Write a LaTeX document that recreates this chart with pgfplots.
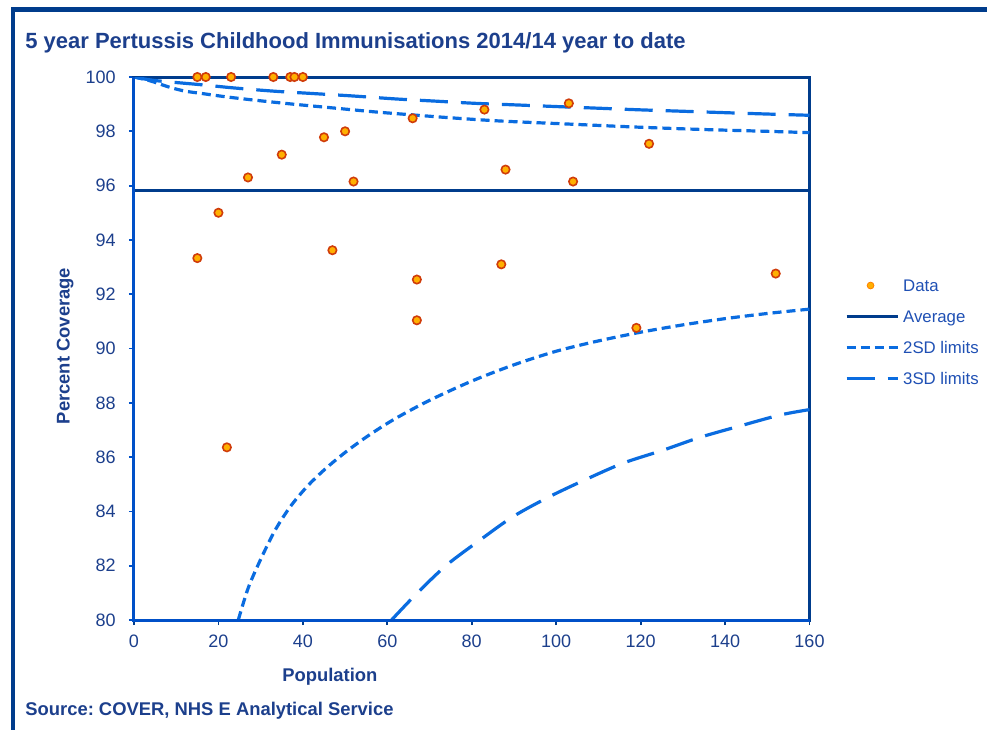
\documentclass[border=0pt]{standalone}
\usepackage{pgfplots}
\pgfplotsset{compat=1.18}
\usepackage{fontspec}
\setmainfont{Liberation Sans}
\frenchspacing
\definecolor{navy}{HTML}{003C8C}
\definecolor{axblue}{HTML}{0050C8}
\definecolor{limblue}{HTML}{0A6CE0}
\definecolor{txtnavy}{HTML}{1C3F8C}
\definecolor{legtxt}{HTML}{1F50B4}
\definecolor{mkfill}{HTML}{FFB000}
\definecolor{mkedge}{HTML}{D03C0A}
\pgfplotsset{
  legline/.style={legend image code/.code={\draw[##1] (0pt,0.5pt) -- (25.5pt,0.5pt);}},
  legdot/.style={legend image code/.code={\draw[##1] plot coordinates {(12pt,0.5pt)};}},
}
\begin{document}
\begin{tikzpicture}
\path[use as bounding box] (0,0) rectangle (493.5pt,-365pt);
\draw[navy, line width=2.2pt] (5.5pt,-4.75pt) -- (493.5pt,-4.75pt);
\draw[navy, line width=2.2pt] (6.5pt,-3.75pt) -- (6.5pt,-365pt);
\begin{axis}[
  at={(67pt,-310pt)}, anchor=south west,
  scale only axis, width=337.75pt, height=271.5pt,
  xmin=0, xmax=160, ymin=80, ymax=100,
  xtick={0,20,...,160}, ytick={80,82,...,100},
  tick pos=left, tick align=outside, major tick length=2.5pt,
  xtick style={navy, line width=0.9pt},
  ytick style={axblue, line width=0.9pt},
  axis line style={navy, line width=1.5pt},
  ticklabel style={font=\fontsize{9}{10}\selectfont, text=txtnavy, inner sep=0pt},
  /pgf/number format/assume math mode=true,
  yticklabel style={xshift=-6.5pt},
  xticklabel style={yshift=-5pt},
  title={5 year Pertussis Childhood Immunisations 2014/14 year to date},
  title style={at={(axis description cs:-0.1614,1.0534)}, anchor=base west, yshift=-6pt, font=\bfseries\fontsize{11}{13}\selectfont, text=txtnavy, inner sep=0pt},
  xlabel={Population},
  xlabel style={at={(axis description cs:0.290,-0.105)}, anchor=center, font=\bfseries\fontsize{9.2}{11}\selectfont, text=txtnavy, inner sep=0pt},
  ylabel={Percent Coverage},
  ylabel style={at={(axis description cs:-0.102,0.5046)}, anchor=center, font=\bfseries\fontsize{9.2}{11}\selectfont, text=txtnavy, inner sep=0pt},
  clip mode=individual,
  legend cell align=left,
  legend style={at={(axis description cs:1.0525,0.6298)}, anchor=north west, draw=none, fill=none, inner sep=0pt, outer sep=0pt, row sep=7pt, column sep=2pt, font=\fontsize{8.4}{10}\selectfont, text=legtxt, nodes={inner sep=0pt, text height=6.5pt, text depth=2pt}},
]
\addlegendimage{only marks, mark=*, mark size=1.7pt, mark options={fill=mkfill, draw=orange, line width=0.4pt}, legdot}
\addlegendentry{Data}
\addlegendimage{navy, line width=1.5pt, legline}
\addlegendentry{Average}
\addlegendimage{limblue, line width=1.6pt, dash pattern=on 4.5pt off 2.5pt, legline}
\addlegendentry{2SD limits}
\addlegendimage{limblue, line width=1.6pt, dash pattern=on 14pt off 6.5pt, legline}
\addlegendentry{3SD limits}

% average
\addplot[forget plot, navy, line width=1.5pt] coordinates {(0,95.81) (160,95.81)};
% upper 2SD
\addplot[forget plot, limblue, line width=1.6pt, dash pattern=on 4.5pt off 2.5pt, smooth] coordinates {
(0,100) (3.8,99.86) (8.5,99.62) (12.1,99.48) (16.2,99.39) (22.3,99.26) (29.6,99.13) (37.7,99.0) (47.2,98.86) (56.7,98.72) (64.7,98.62) (74.8,98.5) (86.7,98.38) (102.5,98.27) (118.3,98.16) (134.1,98.07) (149.9,98.0) (160,97.95)};
% lower 2SD
\addplot[forget plot, limblue, line width=1.6pt, dash pattern=on 4.5pt off 2.5pt, smooth] coordinates {
(24.7,80) (27.1,81.2) (30.2,82.3) (33.4,83.3) (36.9,84.15) (40.9,84.9) (45.2,85.55) (50,86.17) (55.5,86.79) (61.8,87.41) (70,88.09) (80,88.8) (90,89.4) (100,89.9) (110,90.28) (120,90.6) (130,90.87) (140,91.1) (150,91.29) (160,91.45)};
% upper 3SD
\addplot[forget plot, limblue, line width=1.6pt, dash pattern=on 14pt off 6.5pt, smooth] coordinates {
(0,100) (5,99.87) (15.6,99.72) (23.5,99.6) (33,99.48) (42.5,99.39) (52,99.3) (62.2,99.19) (71.6,99.11) (80.9,99.03) (90.8,98.97) (100.3,98.91) (110.1,98.85) (120,98.79) (129.7,98.74) (139.3,98.69) (149.2,98.64) (160,98.59)};
% lower 3SD
\addplot[forget plot, limblue, line width=1.6pt, dash pattern=on 14pt off 6.5pt, smooth] coordinates {
(61.0,80) (67.0,80.98) (74.1,82.03) (82.0,82.95) (89.8,83.81) (98.5,84.55) (107.2,85.19) (115.9,85.78) (125.4,86.26) (134.1,86.73) (143.6,87.15) (153.0,87.55) (160,87.75)};
\draw[axblue, line width=1.5pt] (rel axis cs:0,1) -- (rel axis cs:0,0) -- (rel axis cs:1,0);
% data
\addplot[forget plot, only marks, mark=*, mark size=2.1pt, mark options={fill=mkfill, draw=mkedge, line width=0.8pt}] coordinates {
(15,100) (17,100) (23,100) (33,100) (37,100) (38,100) (40,100)
(66,98.48) (50,98) (45,97.78) (35,97.14) (27,96.30) (52,96.15) (20,95)
(83,98.80) (103,99.03) (122,97.54) (88,96.59) (104,96.15)
(15,93.33) (47,93.62) (67,92.54) (67,91.04) (22,86.36) (87,93.10) (152,92.76) (119,90.76)};
\end{axis}
\node[anchor=base west, inner sep=0pt, font=\bfseries\fontsize{9.2}{11}\selectfont, text=txtnavy] at (12.5pt,-357.5pt) {Source: COVER, NHS E Analytical Service};
\end{tikzpicture}
\end{document}
